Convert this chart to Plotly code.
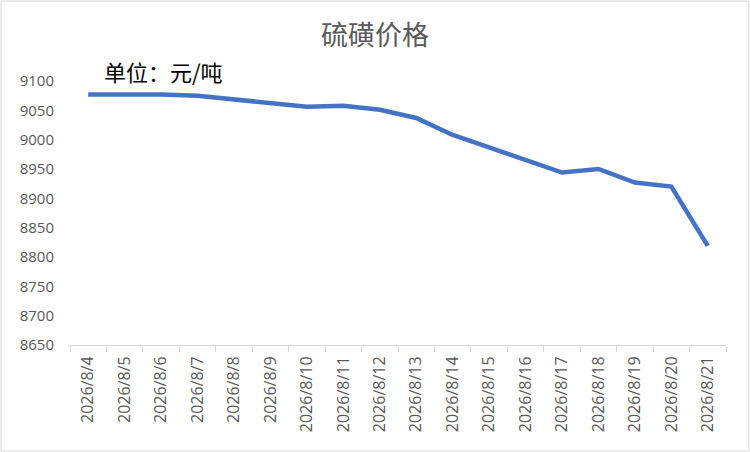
import plotly.graph_objects as go

dates = ["2026/8/4", "2026/8/5", "2026/8/6", "2026/8/7", "2026/8/8", "2026/8/9",
         "2026/8/10", "2026/8/11", "2026/8/12", "2026/8/13", "2026/8/14", "2026/8/15",
         "2026/8/16", "2026/8/17", "2026/8/18", "2026/8/19", "2026/8/20", "2026/8/21"]
prices = [9077, 9077, 9077, 9075, 9069, 9062, 9056, 9058, 9051, 9037, 9008, 8987,
          8966, 8944, 8950, 8927, 8920, 8819]
y_ticks = [8650, 8700, 8750, 8800, 8850, 8900, 8950, 9000, 9050, 9100]

L, R, T, B = 70, 24, 81, 107
W, H = 750, 452
pw, ph = W - L - R, H - T - B

fig = go.Figure()
fig.add_trace(go.Scatter(
    x=dates, y=prices, mode="lines",
    line=dict(color="#4472C4", width=4.5),
    hoverinfo="x+y",
))

fig.update_layout(
    width=W, height=H,
    margin=dict(l=L, r=R, t=T, b=B, autoexpand=False),
    paper_bgcolor="white", plot_bgcolor="white",
    showlegend=False,
    font=dict(family="Open Sans, Noto Sans CJK SC, sans-serif", color="#595959"),
    title=dict(text="硫磺价格", x=0.5, xref="container", xanchor="center",
               y=1 - 36 / H, yref="container", yanchor="middle",
               font=dict(size=27, color="#595959", family="Noto Sans CJK SC")),
    xaxis=dict(
        type="category", tickangle=-90, tickson="boundaries",
        ticks="outside", ticklen=6, tickcolor="#D9D9D9",
        showline=True, linecolor="#D9D9D9", linewidth=1,
        showgrid=False, zeroline=False, automargin=False,
        tickfont=dict(size=16, color="#595959", family="Open Sans"),
        ticklabelstandoff=4,
        range=[-0.5, len(dates) - 0.5],
    ),
    yaxis=dict(
        range=[8650, 9100], tickvals=y_ticks,
        showgrid=False, zeroline=False, showline=False, automargin=False,
        tickfont=dict(size=15, color="#595959", family="Open Sans"),
        ticks="", ticklabelstandoff=15,
    ),
    annotations=[dict(
        text="单位：元/吨", xref="paper", yref="paper",
        x=(102 - L) / pw, y=1 + (T - 71) / ph, xanchor="left", yanchor="middle",
        showarrow=False, font=dict(size=22, color="#000000", family="Noto Sans CJK SC"),
    )],
    shapes=[dict(
        type="rect", xref="paper", yref="paper",
        x0=(-L + 1) / pw, x1=1 + (R - 1) / pw, y0=(-B + 1) / ph, y1=1 + (T - 1) / ph,
        line=dict(color="#D9D9D9", width=1), fillcolor="rgba(0,0,0,0)", layer="below",
    )],
)

fig.write_html("out.html", config={"displayModeBar": False},
               post_script="document.body.style.margin='0';document.body.style.overflow='hidden';")
